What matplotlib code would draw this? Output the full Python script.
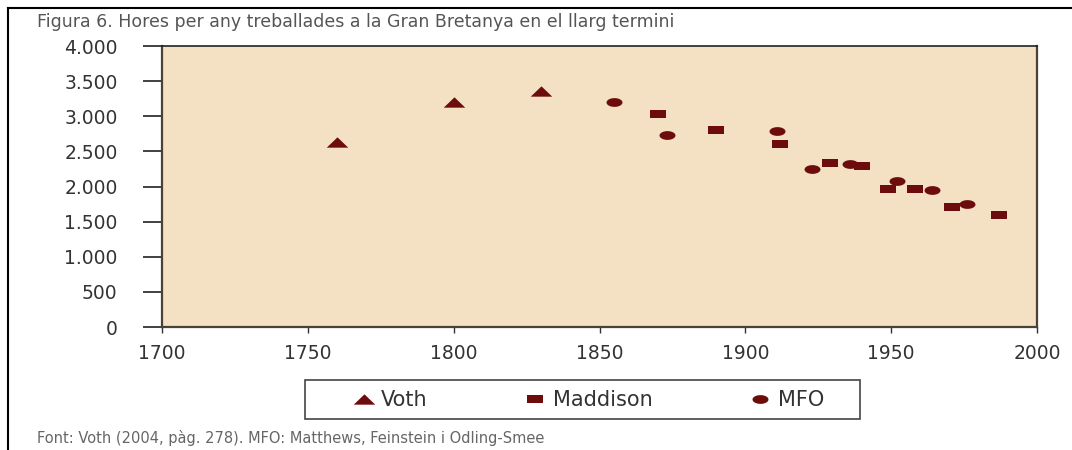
import numpy as np
import matplotlib
matplotlib.use("Agg")
import matplotlib.pyplot as plt
from matplotlib.lines import Line2D
from matplotlib.patches import Rectangle
from matplotlib.ticker import FuncFormatter

# Hores per any treballades (Gran Bretanya)
voth_years = [1760, 1800, 1830]
voth_hours = [2640, 3200, 3360]

maddison_years = [1870, 1890, 1912, 1929, 1940, 1949, 1958, 1971, 1987]
maddison_hours = [3030, 2810, 2600, 2330, 2290, 1970, 1970, 1715, 1590]

mfo_years = [1855, 1873, 1911, 1923, 1936, 1952, 1964, 1976]
mfo_hours = [3200, 2740, 2785, 2255, 2315, 2085, 1955, 1745]

x_ticks = [1700, 1750, 1800, 1850, 1900, 1950, 2000]
y_ticks = [0, 500, 1000, 1500, 2000, 2500, 3000, 3500, 4000]

title = "Figura 6. Hores per any treballades a la Gran Bretanya en el llarg termini"
source = "Font: Voth (2004, pàg. 278). MFO: Matthews, Feinstein i Odling-Smee"

red = "#6d0c0c"
grey = "#555555"

# flattened markers (the original picture is stretched horizontally)
tri = [(-1, -0.48), (1, -0.48), (0, 0.48), (-1, -0.48)]
rect = [(-1, -0.45), (1, -0.45), (1, 0.45), (-1, 0.45), (-1, -0.45)]
t = np.linspace(0, 2 * np.pi, 40)
ell = list(zip(np.cos(t), 0.55 * np.sin(t)))

fig = plt.figure(figsize=(10.72, 4.5), dpi=100)
ax = fig.add_axes([0.1511, 0.2733, 0.8163, 0.6244])
ax.set_facecolor("#f4e0c2")

ax.plot(voth_years, voth_hours, linestyle="None", marker=tri, markersize=15.5,
        color=red, markeredgewidth=0, label="Voth")
ax.plot(maddison_years, maddison_hours, linestyle="None", marker=rect, markersize=11.5,
        color=red, markeredgewidth=0, label="Maddison")
ax.plot(mfo_years, mfo_hours, linestyle="None", marker=ell, markersize=11.5,
        color=red, markeredgewidth=0, label="MFO")

ax.set_xlim(1700, 2000)
ax.set_ylim(0, 4000)
ax.set_xticks(x_ticks)
ax.set_yticks(y_ticks)
ax.yaxis.set_major_formatter(FuncFormatter(lambda v, p: f"{int(v):,}".replace(",", ".")))

for s in ax.spines.values():
    s.set_color("#4a4236")
    s.set_linewidth(1.6)
ax.spines["top"].set_color("#222222")
ax.spines["top"].set_linewidth(1.2)

ax.tick_params(axis="y", length=14, width=1.3, pad=18, labelsize=13.5,
               colors="#333333", direction="out")
ax.tick_params(axis="x", length=4, width=1.0, pad=8, labelsize=13.5,
               colors="#333333", direction="out")

# title and source
fig.text(37 / 1072, 1 - 22 / 450, title, fontsize=12.5, color=grey,
         ha="left", va="center")
fig.text(37 / 1072, 1 - 438 / 450, source, fontsize=10.5, color="#666666",
         ha="left", va="center")

# legend: entries without frame, box drawn separately
leg = fig.legend(loc="center", ncol=3,
                 bbox_to_anchor=(588 / 1072, 1 - 400 / 450),
                 bbox_transform=fig.transFigure, fontsize=15,
                 frameon=False, handlelength=1.1, handletextpad=0.3,
                 columnspacing=4.6, borderpad=0.2)
for txt in leg.get_texts():
    txt.set_color("#333333")
fig.add_artist(Rectangle((305 / 1072, 1 - 419 / 450), 555 / 1072, 39 / 450,
                         transform=fig.transFigure, fill=False,
                         edgecolor="#444444", linewidth=1.2))

# outer frame (top and left edges)
fig.add_artist(Line2D([8 / 1072, 1.0], [1 - 8 / 450, 1 - 8 / 450],
                      transform=fig.transFigure, color="black", linewidth=1.5))
fig.add_artist(Line2D([8 / 1072, 8 / 1072], [0.0, 1 - 8 / 450],
                      transform=fig.transFigure, color="black", linewidth=1.5))

fig.savefig("out.png", dpi=100, facecolor="white")
